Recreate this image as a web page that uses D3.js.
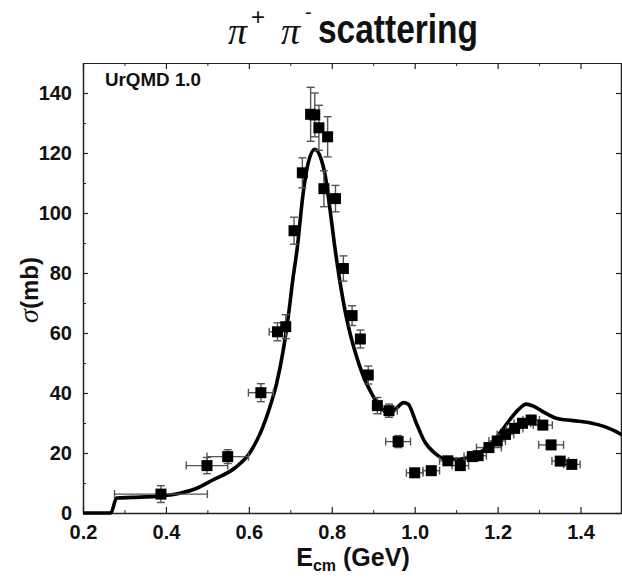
<!DOCTYPE html>
<html><head><meta charset="utf-8">
<script src="https://cdn.jsdelivr.net/npm/d3@7"></script>
<style>body{margin:0;background:#fff}</style>
</head><body><svg id="c" width="622" height="579"></svg>
<script>
// measured data points (E_cm in GeV, sigma in mb)
const energy = [0.388,0.499,0.549,0.629,0.669,0.689,0.709,0.729,0.749,0.759,0.769,0.781,0.790,0.809,0.828,0.849,0.869,0.888,0.910,0.938,0.960,1.000,1.040,1.080,1.110,1.139,1.153,1.179,1.199,1.219,1.241,1.260,1.281,1.309,1.329,1.351,1.379];
const sigma  = [6.3,15.8,18.8,40.1,60.4,62.1,94.1,113.4,132.9,132.7,128.4,108.1,125.4,104.8,81.5,65.8,58.0,46.0,35.8,34.1,23.8,13.4,14.1,17.4,15.8,18.8,19.1,21.8,24.0,26.2,28.2,29.9,31.0,29.3,22.7,17.3,16.2];
const xErr   = [0.112,0.05,0.05,0.03,0.02,0,0,0,0,0,0,0,0,0,0,0,0,0,0,0.02,0.03,0.02,0.02,0.02,0.02,0.02,0.02,0.03,0.02,0.02,0.02,0.02,0.02,0.023,0.03,0.02,0.02];
const yErr   = [2.8,2.7,2.3,3,3,4,4.5,5,9,7.3,7.5,6,6.7,4.4,4.2,3.3,3,3,2.7,2.2,2,1,1,1.2,1.2,1,1,1,1,1,1,1,1,1,1,1,1];
// UrQMD model curve
const curveE     = [0.2,0.267,0.281,0.32,0.39,0.434,0.47,0.513,0.566,0.602,0.631,0.651,0.667,0.683,0.695,0.707,0.716,0.731,0.743,0.759,0.775,0.786,0.795,0.807,0.819,0.835,0.855,0.875,0.896,0.916,0.940,0.956,0.973,0.984,1.004,1.024,1.050,1.076,1.108,1.140,1.173,1.205,1.229,1.249,1.269,1.285,1.309,1.341,1.381,1.422,1.458,1.486,1.5];
const curveSigma = [0,0,5,5.2,5.7,6.6,8,11,15,20,27.7,35.4,43.2,54.3,65.4,78.8,87.5,106.6,116.6,121.2,117.7,111,102,89,77.7,65.4,54.3,46,39.9,35.4,33.2,34.9,36.8,36.3,29.9,23.8,19.8,17.9,17.9,19.3,21.6,26.6,31,34.3,36.3,35.7,33.8,31.6,30.8,30.1,28.8,27.1,26];
const xTicks = [0.2,0.4,0.6,0.8,1.0,1.2,1.4];
const xMinor = [0.3,0.5,0.7,0.9,1.1,1.3,1.5];
const yTicks = [0,20,40,60,80,100,120,140];
const yMinor = [10,30,50,70,90,110,130,150];

const svg = d3.select("#c");
const L = 83, R = 622, T = 63, B = 513;
const x = d3.scaleLinear().domain([0.2,1.5]).range([L,R]);
const y = d3.scaleLinear().domain([0,150]).range([B,T]);
const sans = "'Liberation Sans', Arial, Helvetica, sans-serif";
const serif = "'Liberation Serif', 'DejaVu Serif', serif";
const axCol = "#222";

function styleAxis(g){
  g.select(".domain").attr("stroke", axCol).attr("stroke-width", 1.5);
  g.selectAll(".tick line").attr("stroke", axCol).attr("stroke-width", 1.2);
}
// bottom
const gB = svg.append("g").attr("transform",`translate(0,${B})`)
  .call(d3.axisBottom(x).tickValues(xTicks).tickSizeInner(-6).tickSizeOuter(0).tickPadding(12).tickFormat(d3.format(".1f")));
styleAxis(gB);
gB.selectAll("text").attr("font-family", sans).attr("font-weight","bold").attr("font-size",20).attr("fill","#111");
svg.append("g").attr("transform",`translate(0,${B})`)
  .call(d3.axisBottom(x).tickValues(xMinor).tickSizeInner(-3).tickSizeOuter(0).tickFormat(""))
  .call(g=>{g.select(".domain").remove(); g.selectAll(".tick line").attr("stroke",axCol);});
// top
const gT = svg.append("g").attr("transform",`translate(0,${T})`)
  .call(d3.axisTop(x).tickValues(xTicks).tickSizeInner(-6).tickSizeOuter(0).tickFormat(""));
styleAxis(gT); gT.select(".domain").attr("stroke-width",1.2);
svg.append("g").attr("transform",`translate(0,${T})`)
  .call(d3.axisTop(x).tickValues(xMinor).tickSizeInner(-3).tickSizeOuter(0).tickFormat(""))
  .call(g=>{g.select(".domain").remove(); g.selectAll(".tick line").attr("stroke",axCol);});
// left
const gL = svg.append("g").attr("transform",`translate(${L},0)`)
  .call(d3.axisLeft(y).tickValues(yTicks).tickSizeInner(-5).tickSizeOuter(0).tickPadding(11));
styleAxis(gL);
gL.selectAll("text").attr("font-family", sans).attr("font-weight","bold").attr("font-size",20).attr("fill","#111");
svg.append("g").attr("transform",`translate(${L},0)`)
  .call(d3.axisLeft(y).tickValues(yMinor).tickSizeInner(-3).tickSizeOuter(0).tickFormat(""))
  .call(g=>{g.select(".domain").remove(); g.selectAll(".tick line").attr("stroke",axCol);});
// right
const gR = svg.append("g").attr("transform",`translate(${R-1},0)`)
  .call(d3.axisRight(y).tickValues(yTicks).tickSizeInner(-5).tickSizeOuter(0).tickFormat(""));
styleAxis(gR);

// curve
const line = d3.line().x((d,i)=>x(curveE[i])).y((d,i)=>y(curveSigma[i])).curve(d3.curveMonotoneX);
svg.append("path").datum(curveE).attr("d", line).attr("fill","none")
  .attr("stroke","#000").attr("stroke-width",3.6).attr("stroke-linejoin","round");

// error bars
const pts = energy.map((e,i)=>({e, s:sigma[i], dx:xErr[i], dy:yErr[i]}));
const eg = svg.append("g").attr("stroke","#555").attr("stroke-width",1.4).attr("fill","none");
const cap = 4;
pts.forEach(p=>{
  if (p.dy>0){
    eg.append("line").attr("x1",x(p.e)).attr("x2",x(p.e)).attr("y1",y(p.s-p.dy)).attr("y2",y(p.s+p.dy));
    eg.append("line").attr("x1",x(p.e)-cap).attr("x2",x(p.e)+cap).attr("y1",y(p.s-p.dy)).attr("y2",y(p.s-p.dy));
    eg.append("line").attr("x1",x(p.e)-cap).attr("x2",x(p.e)+cap).attr("y1",y(p.s+p.dy)).attr("y2",y(p.s+p.dy));
  }
  if (p.dx>0){
    eg.append("line").attr("x1",x(p.e-p.dx)).attr("x2",x(p.e+p.dx)).attr("y1",y(p.s)).attr("y2",y(p.s));
    eg.append("line").attr("x1",x(p.e-p.dx)).attr("x2",x(p.e-p.dx)).attr("y1",y(p.s)-cap).attr("y2",y(p.s)+cap);
    eg.append("line").attr("x1",x(p.e+p.dx)).attr("x2",x(p.e+p.dx)).attr("y1",y(p.s)-cap).attr("y2",y(p.s)+cap);
  }
});
// markers
const ms = 11;
svg.append("g").selectAll("rect").data(pts).join("rect")
  .attr("x",d=>x(d.e)-ms/2).attr("y",d=>y(d.s)-ms/2).attr("width",ms).attr("height",ms).attr("fill","#000");

// texts
svg.append("text").attr("x",105).attr("y",86).attr("font-family",sans).attr("font-weight","bold")
  .attr("font-size",18).attr("fill","#111").attr("textLength",96).attr("lengthAdjust","spacingAndGlyphs").text("UrQMD 1.0");

const tg = svg.append("g").attr("fill","#111");
tg.append("text").attr("x",228).attr("y",44).attr("font-family",serif).attr("font-style","italic").attr("font-size",38).text("π");
tg.append("text").attr("x",251).attr("y",25).attr("font-family",sans).attr("font-size",24).text("+");
tg.append("text").attr("x",281).attr("y",44).attr("font-family",serif).attr("font-style","italic").attr("font-size",38).text("π");
tg.append("text").attr("x",305).attr("y",19).attr("font-family",sans).attr("font-size",20).text("-");
tg.append("text").attr("x",318).attr("y",43).attr("font-family",sans).attr("font-weight","bold").attr("font-size",40)
  .attr("textLength",160).attr("lengthAdjust","spacingAndGlyphs").text("scattering");

const xl = svg.append("text").attr("x",353).attr("y",566).attr("text-anchor","middle")
  .attr("font-family",sans).attr("font-weight","bold").attr("font-size",25).attr("fill","#111");
xl.append("tspan").text("E");
xl.append("tspan").attr("font-size",16).attr("dy",5).text("cm");
xl.append("tspan").attr("dy",-5).text(" (GeV)");

const yl = svg.append("text").attr("transform","translate(38,290) rotate(-90)").attr("text-anchor","middle").attr("fill","#111");
yl.append("tspan").attr("font-family",serif).attr("font-style","italic").attr("font-size",28).text("σ");
yl.append("tspan").attr("font-family",sans).attr("font-weight","bold").attr("font-size",24).text("(mb)");
</script></body></html>
